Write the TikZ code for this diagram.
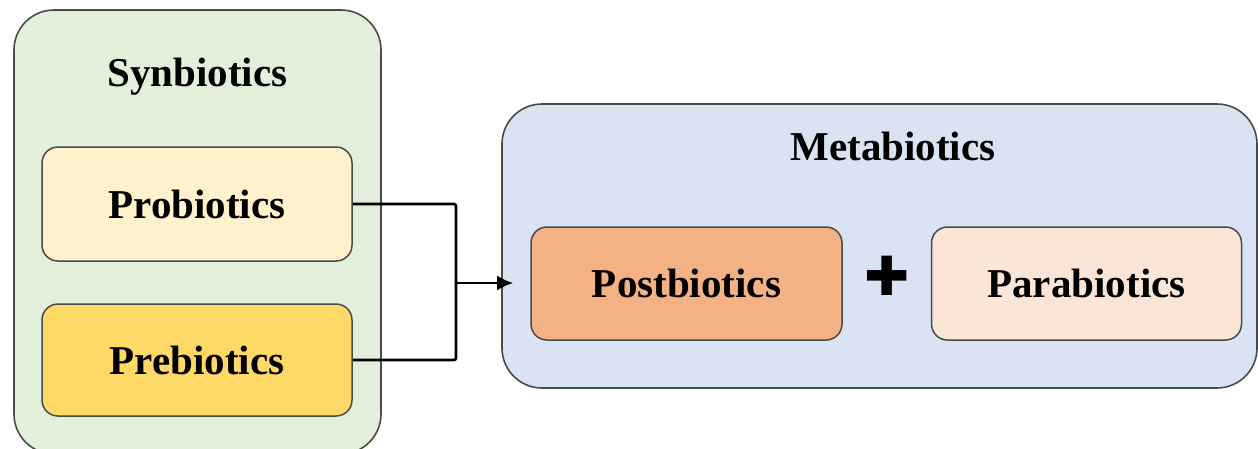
\documentclass[tikz,border=0pt]{standalone}
\usepackage{fontspec}
\setmainfont{Liberation Serif}
\newfontfamily\symfont{DejaVu Sans}
\usetikzlibrary{arrows.meta}

\definecolor{synfill}{HTML}{E2EFDA}
\definecolor{profill}{HTML}{FFF2CC}
\definecolor{prefill}{HTML}{FFD966}
\definecolor{metafill}{HTML}{DAE3F3}
\definecolor{postfill}{HTML}{F4B183}
\definecolor{parafill}{HTML}{FBE5D6}
\definecolor{edge}{HTML}{4A4A4A}

\begin{document}
\begin{tikzpicture}[x=1pt,y=-1pt,
  group/.style={draw=edge,line width=1.6pt,rounded corners=40pt,inner sep=0pt},
  item/.style={draw=edge,line width=1.5pt,rounded corners=16pt,inner sep=0pt,
    minimum width=310pt,font=\fontsize{41}{48}\selectfont\bfseries},
  title/.style={anchor=base,font=\fontsize{41}{48}\selectfont\bfseries},
  link/.style={line width=2.6pt,rounded corners=2pt},
  arrow/.style={link,-{Latex[length=16pt,width=15pt]}}]

\useasboundingbox (0,0) rectangle (1258,448);
\clip (0,0) rectangle (1258,448);

% left group
\node[group,fill=synfill,minimum width=367pt,minimum height=444pt] (syn) at (197.5,232) {};
\node[title] (syntitle) at (197.5,86) {Synbiotics};
\node[item,fill=profill,minimum height=114pt] (pro) at (197,204) {Probiotics};
\node[item,fill=prefill,minimum height=112pt] (pre) at (197,360) {Prebiotics};

% right group
\node[group,fill=metafill,minimum width=755pt,minimum height=284pt] (meta) at (879.5,246) {};
\node[title] (metatitle) at (893,160) {Metabiotics};
\node[item,fill=postfill,minimum width=311pt,minimum height=113pt] (post) at (686.5,283.5) {Postbiotics};
\node[item,fill=parafill,minimum height=113pt] (para) at (1086.5,283.5) {Parabiotics};
\node[font=\symfont\fontsize{54}{60}\selectfont,inner sep=0pt] (plus) at (887.5,276) {✚};

\coordinate (junc) at (456,283);
\draw[link] (pro.east) -| (junc);
\draw[link] (pre.east) -| (junc);
\draw[arrow,shorten >=-12pt] (junc) -- (junc -| meta.west);
\end{tikzpicture}
\end{document}
